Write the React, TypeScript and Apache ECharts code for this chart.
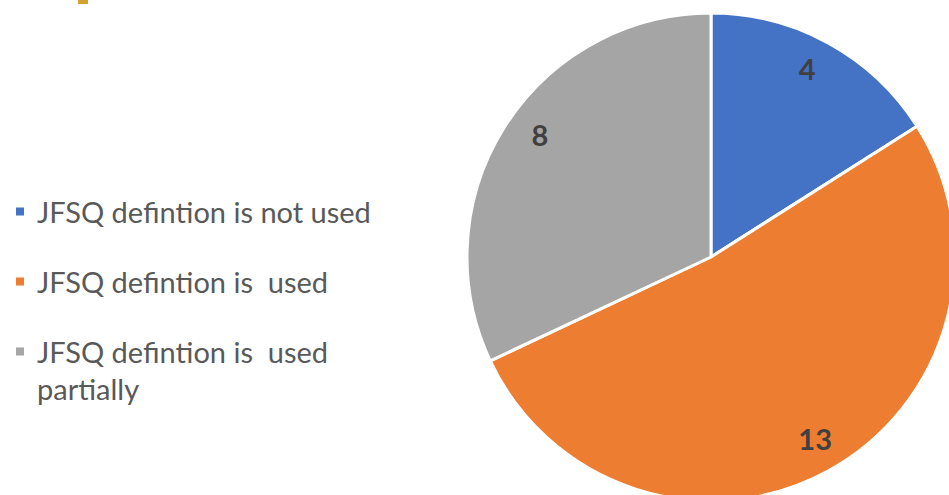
import React, { useEffect, useRef } from 'react';
import * as echarts from 'echarts';

const categories = ['JFSQ defintion is not used', 'JFSQ defintion is  used', 'JFSQ defintion is  used partially'];
const values = [4, 13, 8];
const colors = ['#4472C4', '#ED7D31', '#A5A5A5'];

export default function App() {
  const ref = useRef<HTMLDivElement>(null);
  useEffect(() => {
    const chart = echarts.init(ref.current!, null, { renderer: 'svg' });
    const data = categories.map((name, i) => ({ name, value: values[i], itemStyle: { color: colors[i] } }));
    const R = 244;
    const center = [711, 257];
    const legendText = { fontFamily: 'Lato', fontSize: 29, color: '#595959', lineHeight: 37, padding: [0, 0, 0, 7] };
    const tops = [193, 263, 296];
    const labelNudge = [[-6, -3], [2, -4], [8, -9]];
    const legends = categories.map((name, i) => ({
      left: 14,
      top: tops[i],
      padding: 0,
      orient: 'vertical',
      icon: 'rect',
      itemWidth: 10,
      itemHeight: 10,
      itemGap: 0,
      selectedMode: false,
      data: [name],
      formatter: (n: string) => (n.indexOf(' partially') >= 0 ? '\n' + n.replace(' partially', '\npartially') : n),
      textStyle: legendText,
    }));
    chart.setOption({
      animation: false,
      backgroundColor: '#ffffff',
      legend: legends,
      graphic: [
        { type: 'rect', shape: { x: 78, y: 0, width: 10, height: 4 }, style: { fill: '#D4A233' } },
      ],
      series: [
        {
          type: 'pie',
          center,
          radius: [0, R],
          startAngle: 90,
          clockwise: true,
          data,
          label: { show: false },
          labelLine: { show: false },
          itemStyle: { borderColor: '#ffffff', borderWidth: 3 },
          silent: true,
        },
        {
          type: 'pie',
          center,
          radius: [174, R],
          startAngle: 90,
          clockwise: true,
          data: categories.map((name, i) => ({ name, value: values[i], label: { offset: labelNudge[i] } })),
          itemStyle: { color: 'rgba(0,0,0,0)', borderWidth: 0 },
          label: {
            show: true,
            position: 'inside',
            formatter: '{c}',
            fontFamily: 'Lato',
            fontWeight: 'bold',
            fontSize: 29,
            color: '#404040',
          },
          labelLine: { show: false },
          silent: true,
        },
      ],
    });
    return () => chart.dispose();
  }, []);
  return <div ref={ref} style={{ position: 'fixed', left: 0, top: 0, width: 949, height: 495 }} />;
}
